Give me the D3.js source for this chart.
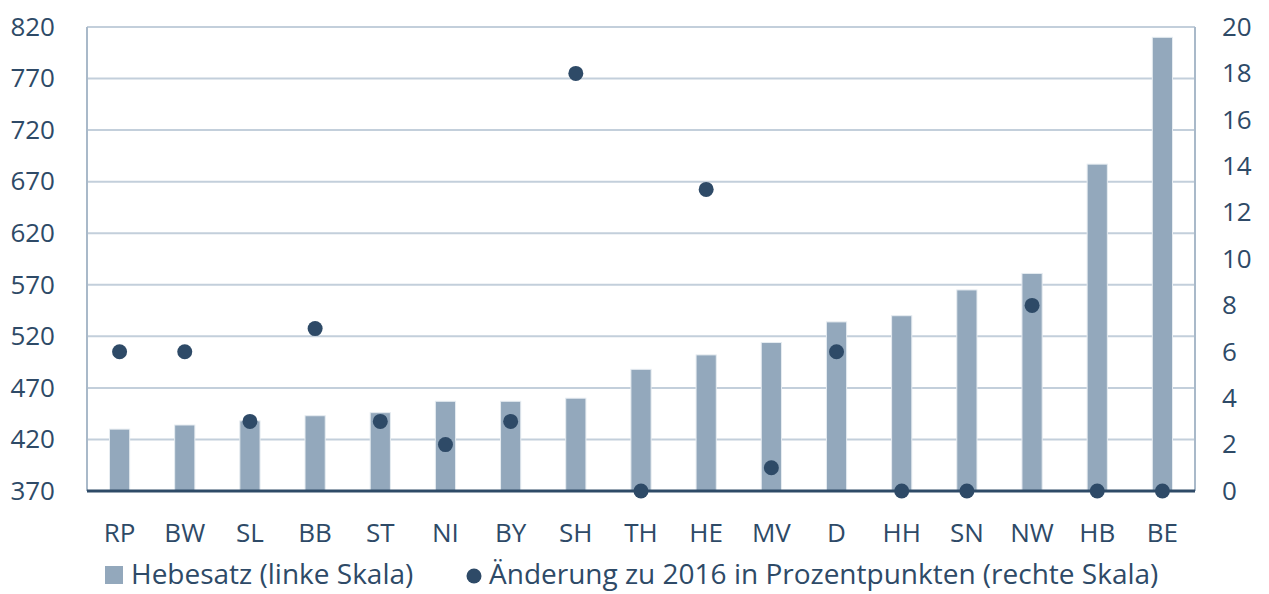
<!DOCTYPE html>
<html lang="de">
<head>
<meta charset="UTF-8">
<title>Hebesatz</title>
<script src="https://d3js.org/d3.v7.min.js"></script>
<style>
body { margin: 0; background: #fff; }
svg text { font-family: "Open Sans", "Noto Sans", sans-serif; fill: #2e4a67; }
</style>
</head>
<body>
<div id="chart"></div>
<script>
    const laender = ["RP", "BW", "SL", "BB", "ST", "NI", "BY", "SH", "TH", "HE", "MV", "D", "HH", "SN", "NW", "HB", "BE"]
    const hebesatz = [430, 434, 438, 443, 446, 457, 457, 460, 488, 502, 514, 534, 540, 565, 581, 687, 810]
    const aenderung = [6, 6, 3, 7, 3, 2, 3, 18, 0, 13, 1, 6, 0, 0, 8, 0, 0]
    const leftTicks = [370, 420, 470, 520, 570, 620, 670, 720, 770, 820]
    const rightTicks = [0, 2, 4, 6, 8, 10, 12, 14, 16, 18, 20]

    const width = 1269, height = 594
    const m = {top: 27, right: 74, bottom: 103, left: 87}

    const svg = d3.select('#chart').append('svg')
        .attr('width', width)
        .attr('height', height)

    const x = d3.scaleBand()
        .domain(laender)
        .range([m.left, width - m.right])
        .paddingInner(0.69)
        .paddingOuter(0.345)

    const yL = d3.scaleLinear().domain([370, 820]).range([height - m.bottom, m.top])
    const yR = d3.scaleLinear().domain([0, 20]).range([height - m.bottom, m.top])

    // Gitterlinien
    svg.append('g')
        .selectAll('line')
        .data(leftTicks)
        .enter()
        .append('line')
        .attr('x1', m.left)
        .attr('x2', width - m.right)
        .attr('y1', d => yL(d))
        .attr('y2', d => yL(d))
        .attr('stroke', '#c3cfdb')
        .attr('stroke-width', 2)

    // Rahmen links/rechts
    svg.append('line')
        .attr('x1', m.left).attr('x2', m.left)
        .attr('y1', m.top).attr('y2', height - m.bottom)
        .attr('stroke', '#a9b9c9').attr('stroke-width', 2)
    svg.append('line')
        .attr('x1', width - m.right).attr('x2', width - m.right)
        .attr('y1', m.top).attr('y2', height - m.bottom)
        .attr('stroke', '#a9b9c9').attr('stroke-width', 2)

    // Balken
    svg.append('g')
        .selectAll('rect')
        .data(hebesatz)
        .enter()
        .append('rect')
        .attr('x', (d, i) => x(laender[i]))
        .attr('y', d => yL(d))
        .attr('width', x.bandwidth())
        .attr('height', d => yL(370) - yL(d))
        .attr('fill', '#93a8bc')
        .attr('stroke', '#e6ecf1')
        .attr('stroke-width', 1)

    // x-Achse
    svg.append('line')
        .attr('x1', m.left).attr('x2', width - m.right)
        .attr('y1', yL(370)).attr('y2', yL(370))
        .attr('stroke', '#2e4a67').attr('stroke-width', 3)

    // Punkte
    svg.append('g')
        .selectAll('circle')
        .data(aenderung)
        .enter()
        .append('circle')
        .attr('cx', (d, i) => x(laender[i]) + x.bandwidth() / 2)
        .attr('cy', d => yR(d))
        .attr('r', 7.5)
        .attr('fill', '#2e4a67')

    // Achsen
    const axL = svg.append('g')
        .attr('transform', 'translate(' + m.left + ',0)')
        .call(d3.axisLeft(yL).tickValues(leftTicks).tickSize(0).tickPadding(32))
    const axR = svg.append('g')
        .attr('transform', 'translate(' + (width - m.right) + ',0)')
        .call(d3.axisRight(yR).tickValues(rightTicks).tickSize(0).tickPadding(27))
    const axB = svg.append('g')
        .attr('transform', 'translate(0,' + (height - m.bottom) + ')')
        .call(d3.axisBottom(x).tickSize(0).tickPadding(33))

    ;[axL, axR, axB].forEach(a => {
        a.select('.domain').remove()
        a.selectAll('text')
            .attr('font-family', '"Open Sans", "Noto Sans", sans-serif')
            .attr('font-size', 26)
            .attr('fill', '#2e4a67')
    })

    // Legende
    const leg = svg.append('g')
    leg.append('rect')
        .attr('x', 105).attr('y', 566)
        .attr('width', 18).attr('height', 18)
        .attr('fill', '#93a8bc')
    leg.append('text')
        .attr('x', 131).attr('y', 584)
        .attr('font-size', 28)
        .text('Hebesatz (linke Skala)')
    leg.append('circle')
        .attr('cx', 474).attr('cy', 576)
        .attr('r', 7.5)
        .attr('fill', '#2e4a67')
    leg.append('text')
        .attr('x', 489).attr('y', 584)
        .attr('font-size', 28)
        .text('Änderung zu 2016 in Prozentpunkten (rechte Skala)')
</script>
</body>
</html>
